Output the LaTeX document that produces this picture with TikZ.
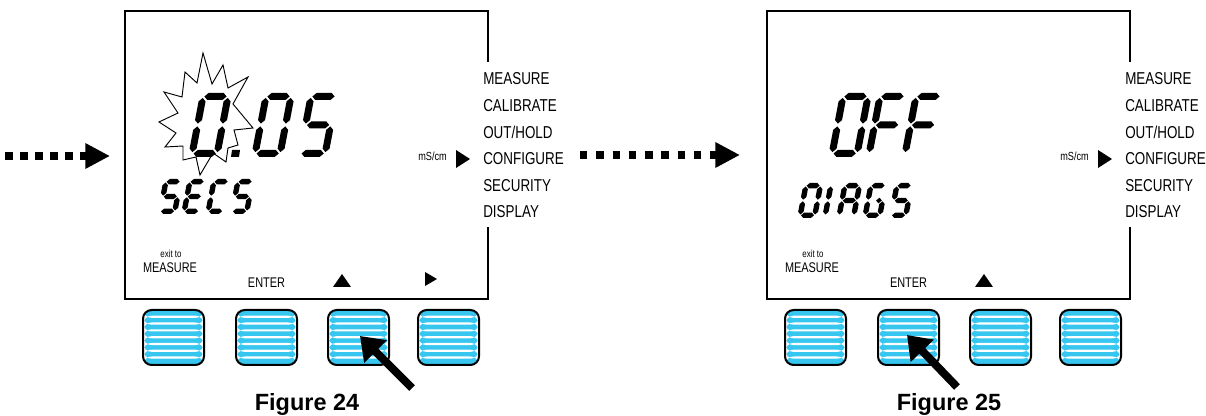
\documentclass[tikz,border=0pt]{standalone}
\usepackage{fontspec}
\setmainfont{Liberation Sans}
\newfontfamily\narrowsans[FakeStretch=0.78]{Liberation Sans}
\usetikzlibrary{arrows.meta}

\definecolor{keyblue}{RGB}{55,198,240}

% ---------- seven-segment glyphs ----------
\newcommand\lcdH[3]{\fill ({#2},{#1}) -- ({#2+\lcdT/2},{#1+\lcdT/2}) -- ({#3-\lcdT/2},{#1+\lcdT/2}) -- ({#3},{#1}) -- ({#3-\lcdT/2},{#1-\lcdT/2}) -- ({#2+\lcdT/2},{#1-\lcdT/2}) -- cycle;}
\newcommand\lcdV[3]{\fill ({#1},{#2}) -- ({#1+\lcdT/2},{#2+\lcdT/2}) -- ({#1+\lcdT/2},{#3-\lcdT/2}) -- ({#1},{#3}) -- ({#1-\lcdT/2},{#3-\lcdT/2}) -- ({#1-\lcdT/2},{#2+\lcdT/2}) -- cycle;}
\def\lcdsega{\lcdH{\lcdHt-\lcdT/2}{\lcdT/2+\lcdG}{\lcdW-\lcdT/2-\lcdG}}
\def\lcdsegb{\lcdV{\lcdW-\lcdT/2}{\lcdHt/2+\lcdG}{\lcdHt-\lcdT/2-\lcdG}}
\def\lcdsegc{\lcdV{\lcdW-\lcdT/2}{\lcdT/2+\lcdG}{\lcdHt/2-\lcdG}}
\def\lcdsegd{\lcdH{\lcdT/2}{\lcdT/2+\lcdG}{\lcdW-\lcdT/2-\lcdG}}
\def\lcdsege{\lcdV{\lcdT/2}{\lcdT/2+\lcdG}{\lcdHt/2-\lcdG}}
\def\lcdsegf{\lcdV{\lcdT/2}{\lcdHt/2+\lcdG}{\lcdHt-\lcdT/2-\lcdG}}
\def\lcdsegg{\lcdH{\lcdHt/2}{\lcdT/2+\lcdG}{\lcdW-\lcdT/2-\lcdG}}
\def\lcdsegh{\lcdH{\lcdHt/2}{\lcdW/2+\lcdG}{\lcdW-\lcdT/2-\lcdG}}
% x, y (lower left), width, height, stroke, gap, segment list
\newcommand\lcdchar[7]{%
  \begin{scope}[shift={(#1,#2)},y=0.75pt,xslant=0.19]
    \def\lcdW{#3}\def\lcdHt{#4}\def\lcdT{#5}\def\lcdG{#6}%
    \foreach \s in {#7}{\csname lcdseg\s\endcsname}
  \end{scope}}
\newcommand\bigchar[2]{\lcdchar{#1}{157}{32}{64}{7}{1.4}{#2}}
\newcommand\smallchar[3]{\lcdchar{#1}{#2}{20}{35}{5.4}{0.8}{#3}}

% ---------- parts shared by both panels ----------
\newcommand\panelbase[2]{%
  \begin{scope}[shift={(#2,0)}]
    \draw[frame] (488,62) -- (488,11) -- (125,11) -- (125,299) -- (488,299) -- (488,227);
    \node[menu] (#1-measure)   at (483,85)    {MEASURE};
    \node[menu] (#1-calibrate) at (483,111.6) {CALIBRATE};
    \node[menu] (#1-outhold)   at (483,138.2) {OUT/HOLD};
    \node[menu] (#1-configure) at (483,164.8) {CONFIGURE};
    \node[menu] (#1-security)  at (483,191.4) {SECURITY};
    \node[menu] (#1-display)   at (483,218)   {DISPLAY};
    \node[unit] (#1-unit) at (418,160.5) {mS/cm};
    \fill (456,150) -- (470,159) -- (456,168) -- cycle;
    \node[small, anchor=base] (#1-exit) at (171,258) {exit to};
    \node[keylabel] (#1-exitm) at (170,273) {MEASURE};
    \node[keylabel] (#1-enter) at (266.5,288) {ENTER};
    \fill (333,287) -- (342,274) -- (351,287) -- cycle;
    \node[key] (#1-k1) at (173.5,337.5) {};
    \node[key] (#1-k2) at (266.5,337.5) {};
    \node[key] (#1-k3) at (358.5,337.5) {};
    \node[key] (#1-k4) at (448.5,337.5) {};
  \end{scope}}

\begin{document}
\begin{tikzpicture}[x=0.75pt,y=-0.75pt,
  frame/.style={line width=2pt, line join=miter},
  menu/.style={font=\narrowsans\fontsize{12.9}{14}\selectfont, anchor=base west, inner sep=0pt},
  unit/.style={font=\narrowsans\fontsize{8.8}{10}\selectfont, anchor=base west, inner sep=0pt},
  small/.style={font=\narrowsans\fontsize{7.6}{9}\selectfont, inner sep=0pt},
  keylabel/.style={font=\narrowsans\fontsize{10.5}{12}\selectfont, anchor=base, inner sep=0pt},
  caption/.style={font=\bfseries\fontsize{17.6}{20}\selectfont, anchor=base, inner sep=0pt},
  key/.style={draw, line width=1.5pt, rounded corners=6.5pt, fill=keyblue,
    minimum width=45.75pt, minimum height=41.25pt, inner sep=0pt,
    path picture={\foreach \k in {1,...,7}
      \fill[white] ([yshift={-(\k*6.8-1.1)*0.75pt}]path picture bounding box.north west)
        rectangle ([yshift={-(\k*6.8+1.1)*0.75pt}]path picture bounding box.north east);}},
  dotarrow/.style={line width=6pt, -{Triangle[length=18.5pt,width=18pt]}},
  press/.style={line width=6pt, -{Triangle[length=16.5pt,width=23pt]}}]
\useasboundingbox (0,0) rectangle (1206,416);

% incoming step arrow
\coordinate (in-start) at (5,156);
\coordinate (in-end) at (110,156);
\draw[dotarrow, dash pattern=on 6pt off 5.25pt] (in-start) -- (in-end);

% ---------- Figure 24 ----------
\panelbase{a}{0}
% flashing marker behind the edited digit
\filldraw[fill=white, line width=0.7pt, line join=miter]
  (203,53) -- (212,84) -- (223,65) -- (228,88) -- (248,77) -- (233,104) -- (253,128)
  -- (234,130) -- (238,145) -- (228,148) -- (226,162) -- (213,153) -- (200,175)
  -- (196,157) -- (183,160) -- (183,146) -- (165,147) -- (176,133) -- (159,122)
  -- (178,113) -- (164,92) -- (182,97) -- (185,72) -- (197,83) -- cycle;
\bigchar{188}{a,b,c,d,e,f}
\fill (232,150) -- (240,150) -- (239,157) -- (231,157) -- cycle;
\bigchar{251}{a,b,c,d,e,f}
\bigchar{296}{a,f,g,c,d}
\smallchar{157}{214}{a,f,g,c,d}
\smallchar{181}{214}{a,f,g,e,d}
\smallchar{205}{214}{a,f,e,d}
\smallchar{229}{214}{a,f,g,c,d}
\fill (425,272) -- (437,279) -- (425,286) -- cycle;
\coordinate (a-push) at (412,388);
\coordinate (a-tip) at (360,336);
\draw[press] (a-push) -- (a-tip);
\node[caption] (a-caption) at (307,410) {Figure 24};

% step arrow between the two screens
\coordinate (mid-start) at (580,155);
\coordinate (mid-end) at (740,155);
\draw[dotarrow, dash pattern=on 5.6pt off 6.6pt] (mid-start) -- (mid-end);

% ---------- Figure 25 ----------
\panelbase{b}{642}
\bigchar{828}{a,b,c,d,e,f}
\bigchar{865}{a,f,g,e}
\bigchar{901}{a,f,g,e}
\smallchar{797}{218}{a,b,c,d,e,f}
\smallchar{822}{218}{e,f}
\smallchar{836}{218}{a,b,c,e,f,g}
\smallchar{862}{218}{a,c,d,e,f,h}
\smallchar{888}{218}{a,f,g,c,d}
\coordinate (b-push) at (957,387);
\coordinate (b-tip) at (907,335);
\draw[press] (b-push) -- (b-tip);
\node[caption] (b-caption) at (949,410) {Figure 25};
\end{tikzpicture}
\end{document}
